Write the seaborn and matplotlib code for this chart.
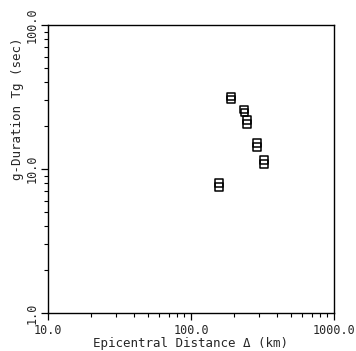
import matplotlib
matplotlib.use("Agg")
import matplotlib.pyplot as plt
import seaborn as sns
from matplotlib.ticker import FixedLocator, FixedFormatter, LogLocator, NullFormatter

# epicentral distance (km) and g-duration Tg (sec); each station plotted twice
distance_km = [190, 191, 235, 236, 246, 247, 289, 290, 323, 324, 157, 157]
tg_sec = [31.9, 30.4, 25.9, 24.6, 21.8, 20.6, 15.2, 14.2, 11.6, 10.8, 8.0, 7.5]

x_ticks = [10.0, 100.0, 1000.0]
x_tick_labels = ["10.0", "100.0", "1000.0"]
y_ticks = [1.0, 10.0, 100.0]
y_tick_labels = ["1.0", "10.0", "100.0"]

sns.set_style("ticks")
plt.rcParams["font.family"] = ["DejaVu Sans Mono", "DejaVu Sans"]

fig = plt.figure(figsize=(3.56, 3.51), dpi=100)
ax = fig.add_axes([0.1348, 0.1083, 0.8034, 0.8205])

sns.scatterplot(x=distance_km, y=tg_sec, ax=ax, marker="s", s=30,
                facecolor="none", edgecolor="black", linewidth=1.1)

ax.set_xscale("log")
ax.set_yscale("log")
ax.set_xlim(10, 1000)
ax.set_ylim(1, 100)

ax.xaxis.set_major_locator(FixedLocator(x_ticks))
ax.xaxis.set_major_formatter(FixedFormatter(x_tick_labels))
ax.yaxis.set_major_locator(FixedLocator(y_ticks))
ax.yaxis.set_major_formatter(FixedFormatter(y_tick_labels))
ax.xaxis.set_minor_locator(LogLocator(base=10, subs=range(2, 10)))
ax.yaxis.set_minor_locator(LogLocator(base=10, subs=range(2, 10)))
ax.xaxis.set_minor_formatter(NullFormatter())
ax.yaxis.set_minor_formatter(NullFormatter())

ax.tick_params(which="major", direction="out", length=5, width=0.9, labelsize=8.5, color="black")
ax.tick_params(which="minor", direction="out", length=3, width=0.8, color="black")
ax.tick_params(axis="x", pad=3)
ax.tick_params(axis="y", pad=2)
for lbl in ax.get_yticklabels():
    lbl.set_rotation(90)
    lbl.set_va("center")

for side in ["left", "right", "top", "bottom"]:
    ax.spines[side].set_visible(True)
    ax.spines[side].set_color("black")
    ax.spines[side].set_linewidth(1.0)

ax.set_xlabel("Epicentral Distance Δ (km)", fontsize=9, labelpad=0)
ax.set_ylabel("g-Duration Tg (sec)", fontsize=9)
ax.yaxis.set_label_coords(-0.085, 0.71)

fig.savefig("out.png", dpi=100, facecolor="white")
